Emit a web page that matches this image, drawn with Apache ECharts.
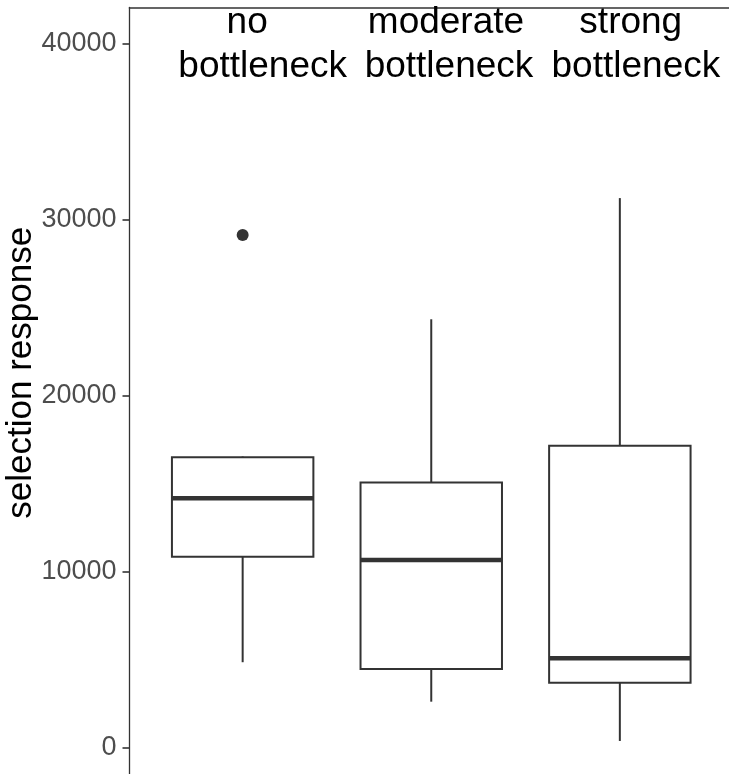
<!DOCTYPE html>
<html>
<head>
<meta charset="utf-8">
<script src="https://cdn.jsdelivr.net/npm/echarts@6/dist/echarts.min.js"></script>
<style>
html,body{margin:0;padding:0;background:#fff;}
#chart{width:729px;height:774px;}
</style>
</head>
<body>
<div id="chart"></div>
<script>
// ---- data ----
var captionLine1 = ['no', 'moderate', 'strong'];
var captionLine2 = ['bottleneck', 'bottleneck', 'bottleneck'];
var xPositions = [1, 2, 3];
var whiskerLow = [4870, 2630, 400];
var q1 = [10860, 4490, 3710];
var median = [14180, 10670, 5090];
var q3 = [16500, 15080, 17160];
var whiskerHigh = [16550, 24340, 31220];
var outlierX = [1];
var outlierY = [29120];
var yTicks = [0, 10000, 20000, 30000, 40000];
// where the caption lines sit along the x scale
var captionLine1Pos = [1.024, 2.078, 3.058];
var captionLine2Pos = [1.106, 2.094, 3.085];

var boxData = xPositions.map(function (x, i) {
  return [x, whiskerLow[i], q1[i], median[i], q3[i], whiskerHigh[i]];
});
var outlierData = outlierX.map(function (x, i) { return [x, outlierY[i]]; });

var INK = '#333333';
var BOX_WIDTH = 0.75;
var FONT = 'Liberation Sans, Arial, sans-serif';

function nearestLabel(positions, texts) {
  return function (v) {
    var best = 0;
    for (var i = 1; i < positions.length; i++) {
      if (Math.abs(positions[i] - v) < Math.abs(positions[best] - v)) best = i;
    }
    return texts[best];
  };
}

var chart = echarts.init(document.getElementById('chart'), null, {renderer: 'canvas'});
chart.setOption({
  backgroundColor: '#ffffff',
  animation: false,
  textStyle: {fontFamily: FONT},
  grid: {left: 129.5, right: -4, top: 7.5, bottom: 0, containLabel: false, outerBoundsMode: 'none'},
  xAxis: [
    {
      type: 'value',
      position: 'top',
      offset: 0,
      min: 0.4,
      max: 3.6,
      axisLine: {show: true, onZero: false, lineStyle: {color: INK, width: 1.6}},
      axisTick: {show: false},
      splitLine: {show: false},
      axisLabel: {
        customValues: captionLine1Pos,
        inside: true,
        margin: -6.3,
        color: '#000000',
        fontSize: 37,
        lineHeight: 44,
        fontFamily: FONT,
        formatter: nearestLabel(captionLine1Pos, captionLine1)
      }
    },
    {
      type: 'value',
      position: 'top',
      offset: 0,
      min: 0.4,
      max: 3.6,
      axisLine: {show: false},
      axisTick: {show: false},
      splitLine: {show: false},
      axisLabel: {
        customValues: captionLine2Pos,
        inside: true,
        margin: 37.7,
        color: '#000000',
        fontSize: 37,
        lineHeight: 44,
        fontFamily: FONT,
        formatter: nearestLabel(captionLine2Pos, captionLine2)
      }
    }
  ],
  yAxis: {
    type: 'value',
    min: -1476,
    max: 42040,
    name: 'selection response',
    nameLocation: 'middle',
    nameGap: 91,
    nameMoveOverlap: false,
    nameTextStyle: {color: '#000000', fontSize: 35, padding: [0, 0, 0, 36], fontFamily: FONT},
    axisLine: {show: true, onZero: false, lineStyle: {color: INK, width: 1.3}},
    axisTick: {show: true, customValues: yTicks, length: 7, lineStyle: {color: INK, width: 1.6}},
    splitLine: {show: false},
    axisLabel: {
      customValues: yTicks,
      color: '#4D4D4D',
      fontSize: 27,
      margin: 13,
      fontFamily: FONT,
      formatter: function (v) { return String(v); }
    }
  },
  series: [
    {
      type: 'custom',
      data: boxData,
      encode: {x: 0, y: [1, 2, 3, 4, 5]},
      renderItem: function (params, api) {
        var x = api.value(0);
        var pLo = api.coord([x, api.value(1)]);
        var pQ1 = api.coord([x, api.value(2)]);
        var pMed = api.coord([x, api.value(3)]);
        var pQ3 = api.coord([x, api.value(4)]);
        var pHi = api.coord([x, api.value(5)]);
        var half = api.size([BOX_WIDTH, 0])[0] / 2;
        var lineStyle = {stroke: INK, lineWidth: 2};
        return {
          type: 'group',
          children: [
            {type: 'line', shape: {x1: pLo[0], y1: pLo[1], x2: pQ1[0], y2: pQ1[1]}, style: lineStyle},
            {type: 'line', shape: {x1: pQ3[0], y1: pQ3[1], x2: pHi[0], y2: pHi[1]}, style: lineStyle},
            {type: 'rect', shape: {x: pQ3[0] - half, y: pQ3[1], width: half * 2, height: pQ1[1] - pQ3[1]},
              style: {fill: '#ffffff', stroke: INK, lineWidth: 2}},
            {type: 'line', shape: {x1: pMed[0] - half, y1: pMed[1], x2: pMed[0] + half, y2: pMed[1]},
              style: {stroke: INK, lineWidth: 4.5}}
          ]
        };
      },
      z: 2
    },
    {
      type: 'scatter',
      data: outlierData,
      symbol: 'circle',
      symbolSize: 12,
      itemStyle: {color: INK, opacity: 1},
      z: 3
    }
  ]
});
</script>
</body>
</html>
